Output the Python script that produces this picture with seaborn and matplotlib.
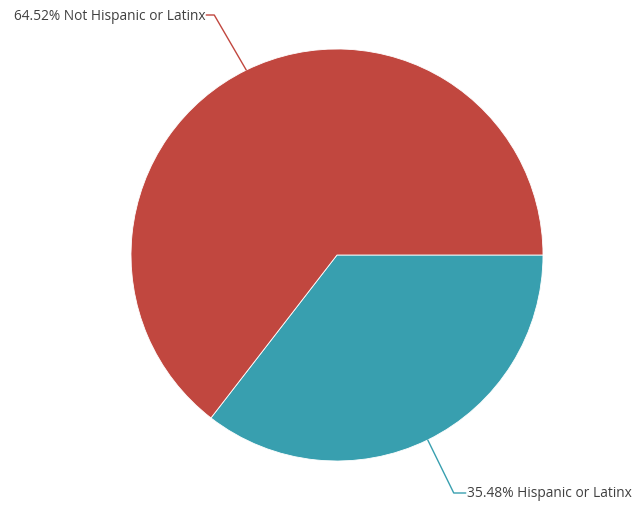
import numpy as np
import matplotlib
matplotlib.use("Agg")
import matplotlib.pyplot as plt
import seaborn as sns

labels = ["Hispanic or Latinx", "Not Hispanic or Latinx"]
shares = [35.48, 64.52]
colors = ["#389FAF", "#C1473F"]

sns.set_theme(style="white")
plt.rcParams["font.family"] = ["Open Sans", "DejaVu Sans"]

W, H = 639, 510
fig = plt.figure(figsize=(W / 100, H / 100), dpi=100)
ax = fig.add_axes([0, 0, 1, 1])

cx, cy, r = 337, H - 256, 206
wedges, _ = ax.pie(shares, colors=sns.color_palette(colors), startangle=0,
                   counterclock=False, radius=r, center=(cx, cy),
                   wedgeprops=dict(edgecolor="white", linewidth=0.6), frame=True)
ax.set_xlim(0, W)
ax.set_ylim(0, H)
ax.set_aspect("equal")
ax.axis("off")

for w, lab, val, col in zip(wedges, labels, shares, colors):
    ang = np.deg2rad((w.theta1 + w.theta2) / 2)
    ex, ey = cx + r * np.cos(ang), cy + r * np.sin(ang)
    down = np.sin(ang) < 0
    # elbow of the leader line
    ky = 16 if down else H - 16
    kx = ex + (26 if down else -32)
    tx = kx + (12 if down else -8)
    ax.plot([ex, kx, tx], [ey, ky, ky], color=col, lw=1)
    ax.text(tx + (1 if down else -1), ky, f"{val:.2f}% {lab}",
            ha="left" if down else "right", va="center",
            fontsize=9.9, color="#404040")

fig.savefig("out.png", dpi=100)
